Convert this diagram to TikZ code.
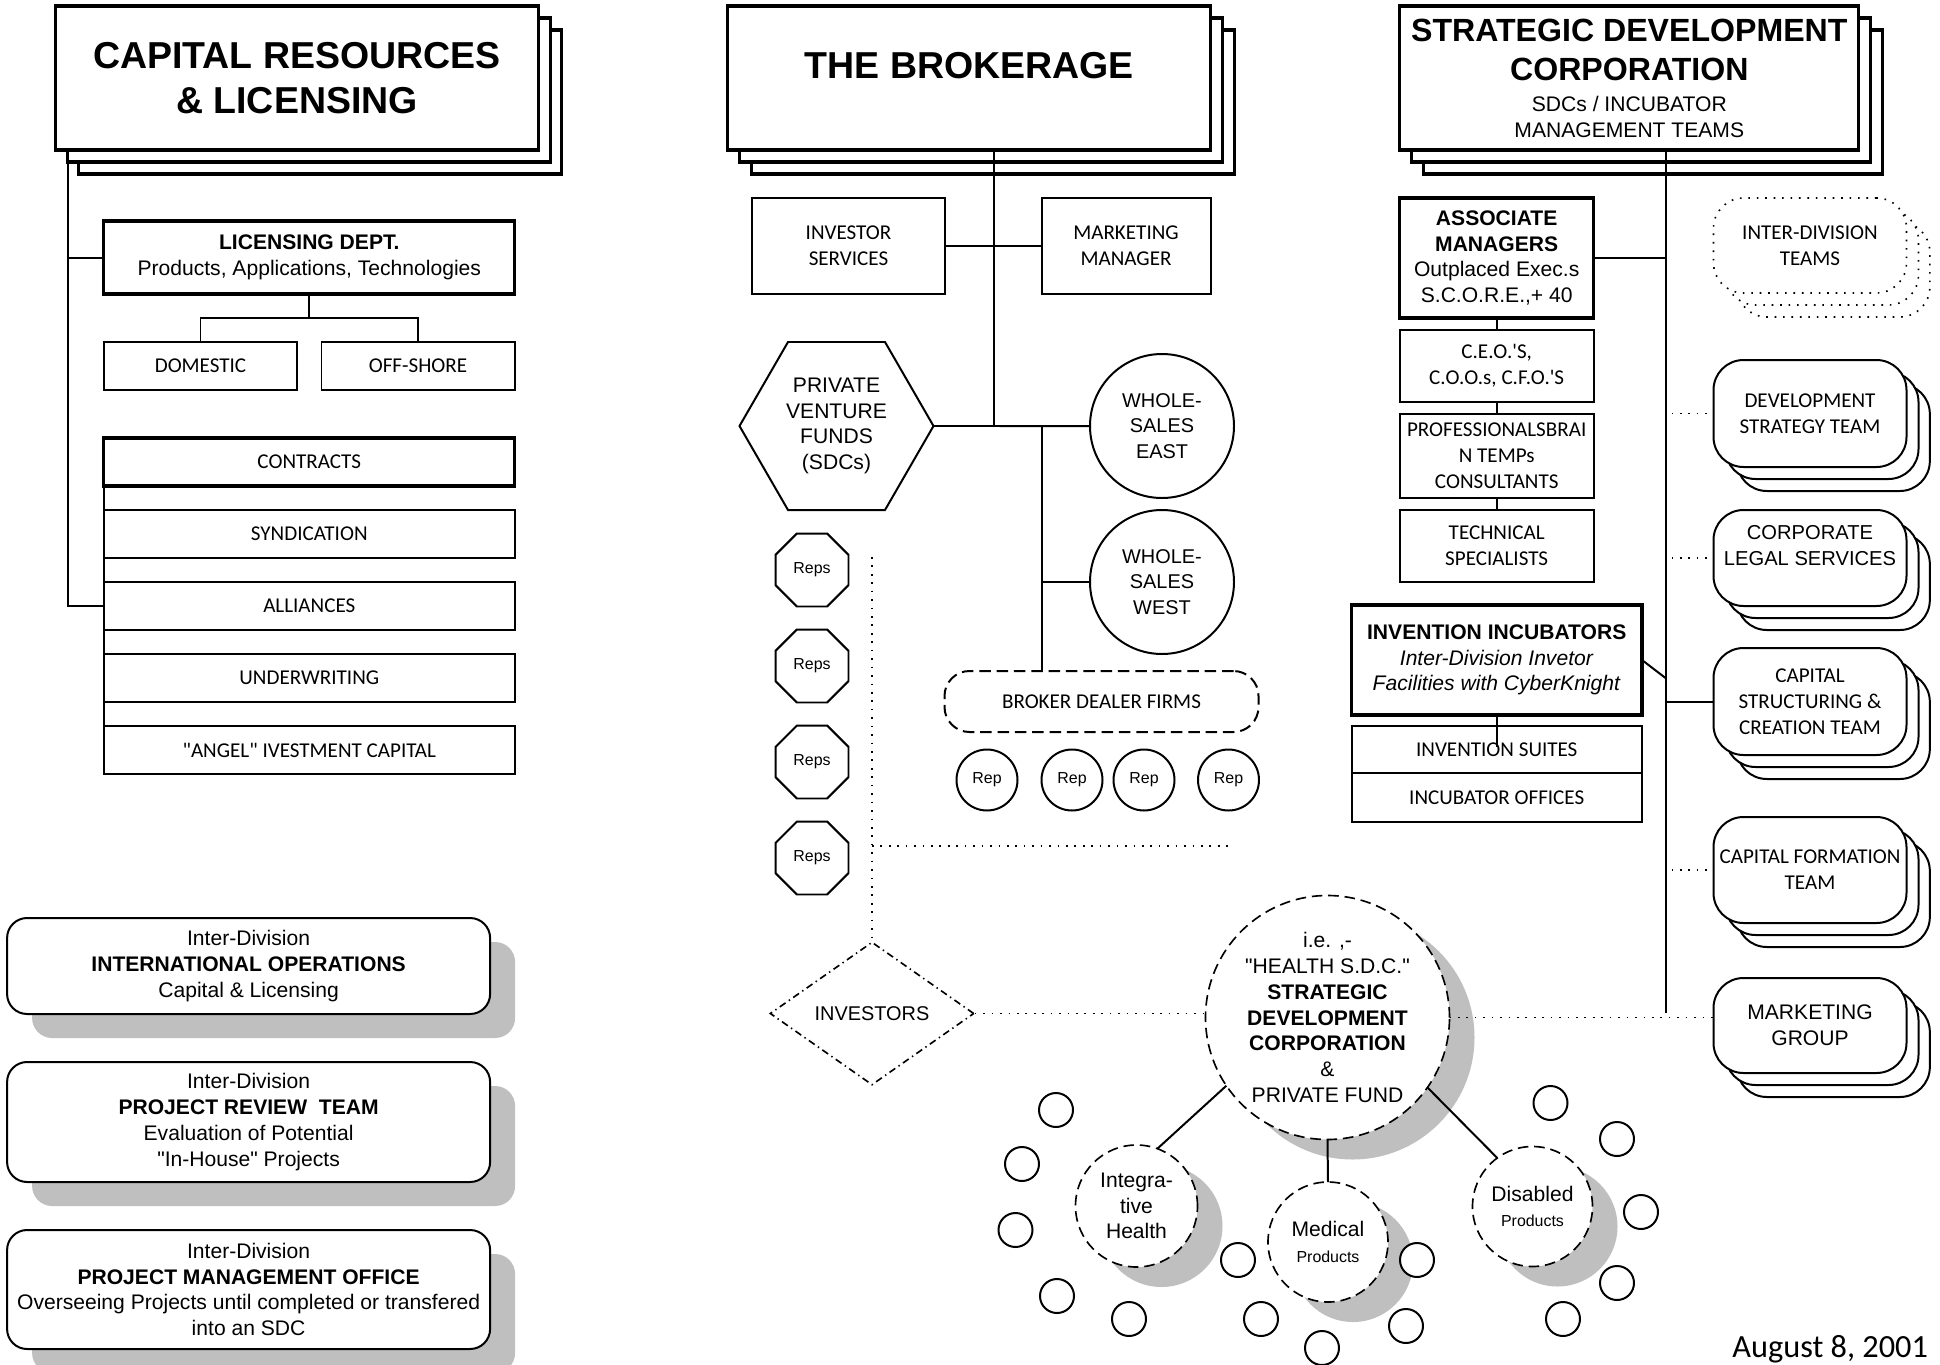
\documentclass[tikz,border=0pt]{standalone}
\usepackage{fontspec}
\setmainfont{Liberation Sans}
\newfontfamily\calib{Carlito}
\usetikzlibrary{shapes.geometric, shadows, calc}

\newcommand{\ppx}{0.015cm}
\newcommand{\fbig}{\fontsize{16pt}{19.2pt}\selectfont\bfseries}
\newcommand{\fsdc}{\fontsize{13.7pt}{17pt}\selectfont\bfseries}
\newcommand{\fmid}{\fontsize{9pt}{11pt}\selectfont}
\newcommand{\fws}{\fontsize{8.5pt}{10.9pt}\selectfont}
\newcommand{\fcls}{\fontsize{8.6pt}{11pt}\selectfont}
\newcommand{\fcal}{\calib\fontsize{9pt}{11.1pt}\selectfont}
\newcommand{\fsm}{\fontsize{6.8pt}{8pt}\selectfont}

\begin{document}
\begin{tikzpicture}[
    x=0.015cm, y=-0.015cm,
    line width=0.85pt,
    wh/.style 2 args={minimum width=#1*\ppx, minimum height=#2*\ppx},
    dia/.style={minimum size=#1*\ppx},
    box/.style={draw, fill=white, align=center, inner sep=0pt, outer sep=0pt, font=\fcal},
    heavy/.style={box, line width=1.3pt, font=\fmid},
    title/.style={box, line width=1.3pt, font=\fbig,
        copy shadow={shadow xshift=0.35cm, shadow yshift=-0.36cm},
        copy shadow={shadow xshift=0.18cm, shadow yshift=-0.18cm}},
    team/.style={box, rounded corners=0.45cm, wh={193}{#1},
        copy shadow={shadow xshift=0.35cm, shadow yshift=-0.36cm},
        copy shadow={shadow xshift=0.18cm, shadow yshift=-0.18cm}},
    interdiv/.style={box, rounded corners=0.3cm, font=\fmid, wh={483}{#1},
        drop shadow={shadow xshift=0.375cm, shadow yshift=-0.36cm, fill=black!25, opacity=1}},
    bub/.style={circle, draw, fill=white, inner sep=0pt, outer sep=0pt, align=center, font=\fmid},
    sdcirc/.style={bub, line width=0.7pt, dash pattern=on 4.5pt off 2.5pt,
        drop shadow={shadow xshift=0.375cm, shadow yshift=-0.3cm, fill=black!25, opacity=1}},
    hexa/.style={regular polygon, regular polygon sides=6, draw, fill=white, inner sep=0pt,
        outer sep=0pt, align=center, font=\fmid, dia=194},
    oct/.style={regular polygon, regular polygon sides=8, draw, inner sep=0pt, dia=79, font=\fsm},
    dotline/.style={line width=0.7pt, dash pattern=on 0.7pt off 2.9pt}
]
    \path[use as bounding box, fill=white] (0,0) rectangle (1940,1365);

    % Capital Resources & Licensing
    \node[title, wh={483}{144}] (cap) at (297,78) {CAPITAL RESOURCES\\\& LICENSING};
    \node[heavy, wh={411}{73}] (lic) at (309.3,257.5) {\textbf{LICENSING DEPT.}\\Products, Applications, Technologies};
    \node[box, wh={193}{48}] (dom) at (200.5,366) {DOMESTIC};
    \node[box, wh={193}{48}] (off) at (418,366) {OFF-SHORE};
    \node[heavy, font=\fcal, wh={411}{48}] (contr) at (309.3,462) {CONTRACTS};
    \node[box, wh={411}{48}] (synd) at (309.3,534) {SYNDICATION};
    \node[box, wh={411}{48}] (alli) at (309.3,606) {ALLIANCES};
    \node[box, wh={411}{48}] (under) at (309.3,678) {UNDERWRITING};
    \node[box, wh={411}{48}] (angel) at (309.3,750) {\textquotedbl ANGEL\textquotedbl{} IVESTMENT CAPITAL};

    \coordinate (capx) at (68,162);
    \draw (capx) |- (alli.west);
    \draw (capx |- lic.west) -- (lic.west);
    \draw (lic.south) -- ++(0,24) -| (dom.north);
    \draw (lic.south) ++(0,24) -| (off.north);
    \draw (contr.south west) -- (angel.north west);

    % Inter-Division boxes
    \node[interdiv=96] (intl) at (248.6,966) {Inter-Division\\\textbf{INTERNATIONAL OPERATIONS}\\Capital \& Licensing};
    \node[interdiv=120] (review) at (248.6,1122) {Inter-Division\\\textbf{PROJECT REVIEW\ \ TEAM}\\Evaluation of Potential\\\textquotedbl In-House\textquotedbl{} Projects};
    \node[interdiv=119] (pmo) at (248.6,1289.5) {Inter-Division\\\textbf{PROJECT MANAGEMENT OFFICE}\\Overseeing Projects until completed or transfered\\into an SDC};

    % The Brokerage
    \node[title, wh={483}{144}] (brok) at (969.3,78) {\raisebox{0pt}[0pt][0pt]{THE BROKERAGE}};
    \node[box, wh={193}{96}] (invsrv) at (848.5,246) {INVESTOR\\SERVICES};
    \node[box, wh={169}{96}] (mktmgr) at (1126,246) {MARKETING\\MANAGER};
    \node[hexa] (pvf) at (836.5,426) {PRIVATE\\VENTURE\\FUNDS\\(SDCs)};
    \node[bub, dia=144, font=\fws] (east) at (1162,426) {WHOLE-\\SALES\\EAST};
    \node[bub, dia=144, font=\fws] (west) at (1162,582) {WHOLE-\\SALES\\WEST};
    \node[box, rounded corners=0.375cm, dash pattern=on 4.9pt off 2.5pt, wh={314}{61}] (bdf) at (1101.5,701.5) {BROKER DEALER FIRMS};
    \foreach \x [count=\i] in {987,1072,1144,1228.5}
        \node[bub, dia=61, font=\fsm] (rep\i) at (\x,780) {Rep};
    \foreach \y [count=\i] in {570,666,762,858}
        \node[oct] (reps\i) at (812,\y) {Reps};

    \coordinate (bj) at (993.5,426);
    \coordinate (bk) at (1041.5,426);
    \draw (bj |- brok.south) -- (bj);
    \draw (invsrv.east) -- (mktmgr.west);
    \draw (pvf.east) -- (east.west);
    \draw (bk) -- (bdf.north -| bk);
    \draw (bk |- west.west) -- (west.west);

    % Strategic Development Corporation
    \node[title, font=\fmid, wh={459}{144}] (sdc) at (1629.3,78) {{\fsdc STRATEGIC DEVELOPMENT}\\[6pt]{\fsdc CORPORATION}\\[2pt]SDCs / INCUBATOR\\MANAGEMENT TEAMS};
    \node[heavy, wh={194}{120}] (assoc) at (1496.7,258) {\textbf{ASSOCIATE}\\\textbf{MANAGERS}\\Outplaced Exec.s\\S.C.O.R.E.,+ 40};
    \node[box, wh={194}{72}] (ceo) at (1496.7,366) {C.E.O.\textquotesingle S,\\C.O.O.s, C.F.O.\textquotesingle S};
    \node[box, wh={194}{84}] (prof) at (1496.7,456) {PROFESSIONALSBRAI\\N TEMPs\\CONSULTANTS};
    \node[box, wh={194}{72}] (tech) at (1496.7,546) {TECHNICAL\\SPECIALISTS};
    \node[heavy, wh={290.5}{110}] (incub) at (1496.75,660) {\textbf{INVENTION INCUBATORS}\\\textit{Inter-Division Invetor}\\\textit{Facilities with CyberKnight}};
    \node[box, wh={290.5}{47.3}] (suites) at (1496.75,749.7) {INVENTION SUITES};
    \node[box, wh={290.5}{48.4}] (offices) at (1496.75,797.5) {INCUBATOR OFFICES};

    % Teams
    \node[team=95, dotline] (idt) at (1810,245.5) {INTER-DIVISION\\TEAMS};
    \node[team=107] (dst) at (1810,413.5) {DEVELOPMENT\\STRATEGY TEAM};
    \node[team=96, font=\fcls] (cls) at (1810,558) {CORPORATE\\LEGAL SERVICES\\\mbox{}};
    \node[team=107] (cst) at (1810,701.5) {CAPITAL\\STRUCTURING \&\\CREATION TEAM};
    \node[team=106] (cft) at (1810,870) {CAPITAL FORMATION\\TEAM};
    \node[team=95, font=\fmid] (mg) at (1810,1025.5) {MARKETING\\GROUP};

    \coordinate (bus) at (1665.5,1013);
    \coordinate (busin) at (1665.5,678);
    \coordinate (suitesin) at (1496.75,747);
    \draw (bus |- sdc.south) -- (bus);
    \draw (assoc.east) -- (assoc.east -| bus);
    \draw (assoc.south) -- (ceo.north);
    \draw (ceo.south) -- (prof.north);
    \draw (prof.south) -- (tech.north);
    \draw (incub.east) -- (busin);
    \draw (incub.south) -- (suitesin);
    \draw (bus |- cst.west) -- (cst.west);
    \foreach \t in {dst, cls, cft}
        \draw[dotline, shorten <=0.09cm, shorten >=0.09cm] (bus |- \t.west) -- (\t.west);

    % Health SDC cluster
    \node[diamond, draw, inner sep=0pt, line width=0.7pt, dash pattern=on 3pt off 1.7pt on 0.6pt off 1.7pt,
        wh={204}{143}, font=\fws] (invs) at (872,1013.5) {INVESTORS};
    \node[sdcirc, dia=244] (hsdc) at (1327.5,1017.5) {i.e. ,-\\\textquotedbl HEALTH S.D.C.\textquotedbl\\\textbf{STRATEGIC}\\\textbf{DEVELOPMENT}\\\textbf{CORPORATION}\\\&\\PRIVATE FUND};
    \node[sdcirc, dia=122] (integ) at (1136.5,1206) {Integra-\\tive\\Health};
    \node[sdcirc, dia=120] (med) at (1328,1242) {Medical\\{\fsm Products}};
    \node[sdcirc, dia=120] (dis) at (1532.5,1206.5) {Disabled\\{\fsm Products}};
    \foreach \x/\y [count=\i] in {1056/1110, 1022/1164, 1015.5/1230, 1057/1296, 1129/1319,
        1238/1260, 1261/1319, 1322/1348, 1417/1260, 1406/1326,
        1550.5/1103, 1617/1139, 1641/1212, 1617/1283, 1563/1319}
        \node[bub, dia=34] (dot\i) at (\x,\y) {};

    \coordinate (rtop) at (872,557);
    \coordinate (rend) at (1234.6,846);
    \draw[dotline] (rtop) -- (invs.north);
    \draw[dotline] (rtop |- rend) -- (rend);
    \draw[dotline] (invs.east) -- (invs.east -| hsdc.west);
    \draw[dotline] (hsdc.east) -- (hsdc.east -| mg.west);
    \draw (hsdc.214) -- (integ.70);
    \draw (hsdc.south) -- (med.north);
    \draw (hsdc.325) -- (dis.126);

    \node[anchor=base east, inner sep=0pt, font=\calib\fontsize{13.8pt}{15pt}\selectfont] (date) at (1929,1357) {August 8, 2001};

\end{tikzpicture}
\end{document}
